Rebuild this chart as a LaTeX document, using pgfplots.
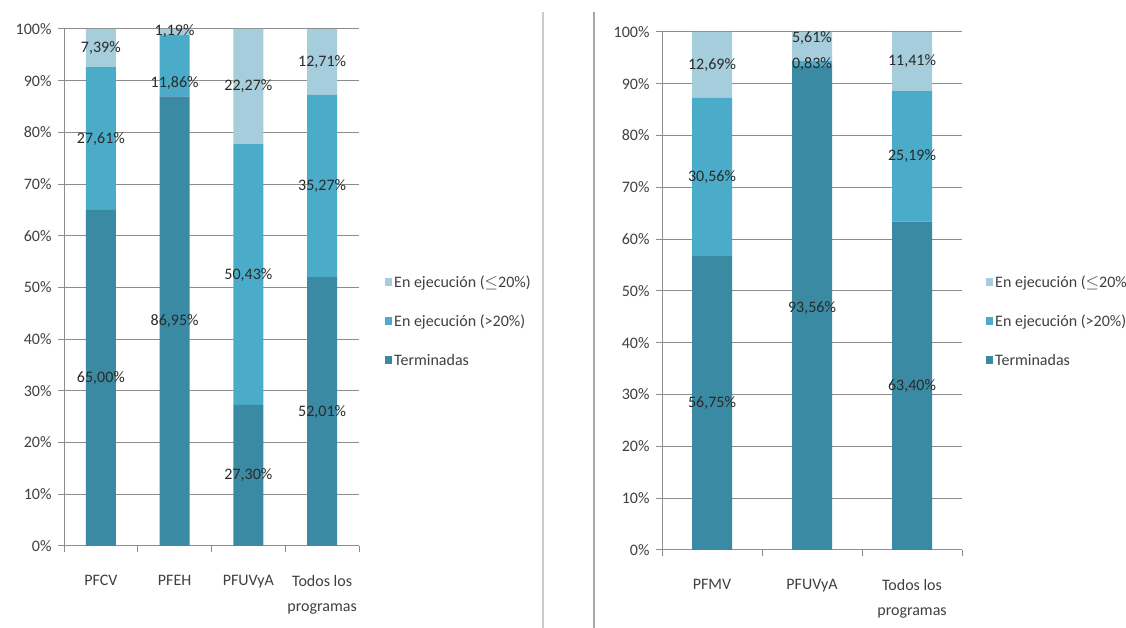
\documentclass[border=0pt]{standalone}
\usepackage{fontspec}
\setmainfont{Carlito}
\usepackage{pgfplots}
\pgfplotsset{compat=1.18}
\definecolor{cLight}{HTML}{A6CDDB}
\definecolor{cMid}{HTML}{4AACC8}
\definecolor{cDark}{HTML}{3A8AA3}
\definecolor{cGrid}{HTML}{8C8C8C}
\definecolor{cTick}{HTML}{404040}
\definecolor{cLab}{HTML}{2A2A2A}

\pgfplotsset{
  panel/.style={
    scale only axis,
    ybar stacked,
    ymin=0, ymax=100,
    ytick={0,10,...,100},
    yticklabels={0\%,10\%,20\%,30\%,40\%,50\%,60\%,70\%,80\%,90\%,100\%},
    ymajorgrids,
    grid style={cGrid, line width=1pt},
    axis x line*=bottom, axis y line*=left,
    axis line style={cGrid, line width=1pt},
    tick align=outside,
    major tick length=6pt,
    tick style={cGrid, line width=1pt},
    xticklabels={},
    extra x tick style={major tick length=0pt},
    tick label style={font=\fontsize{16}{25}\selectfont, text=cTick},
    yticklabel style={xshift=-3pt},
    xticklabel style={align=center, yshift=-26pt},
    legend style={draw=none, fill=none, anchor=west, font=\fontsize{16}{19}\selectfont, text=cTick, row sep=22pt, inner sep=0pt},
    legend cell align=left,
    reverse legend,
    legend image code/.code={\fill[##1] (0pt,-4pt) rectangle (7pt,4pt);},
  },
  labels/.style={
    scale only axis, hide axis, clip=false,
    ymin=0, ymax=100,
  },
  labplot/.style={
    draw=none, mark=none,
    nodes near coords={\pgfplotspointmeta\%},
    point meta=explicit symbolic,
    every node near coord/.style={font=\fontsize{16}{19}\selectfont, text=cLab, inner sep=0pt, anchor=center},
  },
}

\begin{document}
\begin{tikzpicture}[x=1pt,y=1pt]
\useasboundingbox (0,0) rectangle (1126,628);
\fill[white] (0,0) rectangle (1126,628);
\draw[color=black!20, line width=2pt] (543,0) -- (543,616);
\draw[color=black!35, line width=2pt] (594,0) -- (594,616);

% Left panel
\begin{axis}[panel,
  at={(64pt,82pt)}, anchor=south west,
  width=295pt, height=517pt,
  xmin=-0.5, xmax=3.5,
  bar width=30pt,
  xtick={-0.5,0.5,1.5,2.5,3.5},
  extra x ticks={0,1,2,3},
  extra x tick labels={PFCV,PFEH,PFUVyA,Todos los\\programas},
  legend style={at={(1,0.435)}, xshift=26pt},
]
\addplot[fill=cDark, draw=none] coordinates {(0,65.00) (1,86.95) (2,27.30) (3,52.01)};
\addlegendentry{Terminadas}
\addplot[fill=cMid, draw=none] coordinates {(0,27.61) (1,11.86) (2,50.43) (3,35.27)};
\addlegendentry{En ejecución (>20\%)}
\addplot[fill=cLight, draw=none] coordinates {(0,7.39) (1,1.19) (2,22.27) (3,12.71)};
\addlegendentry{En ejecución ($\leq$20\%)}
\end{axis}
\begin{axis}[labels,
  at={(64pt,82pt)}, anchor=south west,
  width=295pt, height=517pt,
  xmin=-0.5, xmax=3.5,
]
\addplot[labplot] table[meta=t] {
x y t
0 32.5 65,00
0 78.8 27,61
0 96.3 7,39
1 43.5 86,95
1 89.6 11,86
1 99.6 1,19
2 13.65 27,30
2 52.5 50,43
2 88.9 22,27
3 26.0 52,01
3 69.6 35,27
3 93.6 12,71
};
\end{axis}

% Right panel
\begin{axis}[panel,
  at={(662pt,78pt)}, anchor=south west,
  width=300pt, height=518pt,
  xmin=-0.5, xmax=2.5,
  bar width=40pt,
  xtick={-0.5,0.5,1.5,2.5},
  extra x ticks={0,1,2},
  extra x tick labels={PFMV,PFUVyA,Todos los\\programas},
  legend style={at={(1,0.442)}, xshift=24pt},
]
\addplot[fill=cDark, draw=none] coordinates {(0,56.75) (1,93.56) (2,63.40)};
\addlegendentry{Terminadas}
\addplot[fill=cMid, draw=none] coordinates {(0,30.56) (1,0.83) (2,25.19)};
\addlegendentry{En ejecución (>20\%)}
\addplot[fill=cLight, draw=none] coordinates {(0,12.69) (1,5.61) (2,11.41)};
\addlegendentry{En ejecución ($\leq$20\%)}
\end{axis}
\begin{axis}[labels,
  at={(662pt,78pt)}, anchor=south west,
  width=300pt, height=518pt,
  xmin=-0.5, xmax=2.5,
]
\addplot[labplot] table[meta=t] {
x y t
0 28.4 56,75
0 72.0 30,56
0 93.65 12,69
1 46.8 93,56
1 93.9 0,83
1 98.8 5,61
2 31.7 63,40
2 76.0 25,19
2 94.3 11,41
};
\end{axis}
\end{tikzpicture}
\end{document}
